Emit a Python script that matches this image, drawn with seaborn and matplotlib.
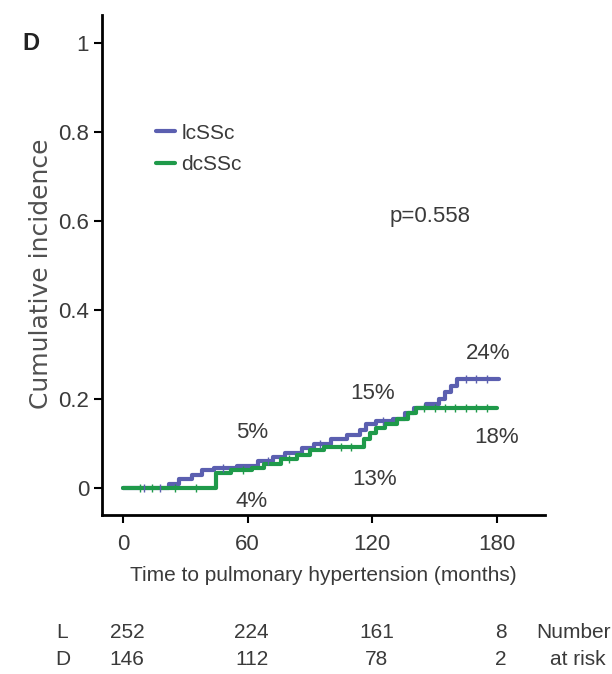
# Cumulative incidence of pulmonary hypertension, lcSSc vs dcSSc
import numpy as np
import pandas as pd
import matplotlib
matplotlib.use("Agg")
import matplotlib.pyplot as plt
import matplotlib.transforms as mtransforms
import seaborn as sns

# step times (months) and cumulative incidence values
lc_time = [0, 22, 27, 33, 38, 44, 55, 65, 72, 78, 86, 92, 100, 108, 114, 117,
           122, 130, 136, 140, 146, 152, 155, 158, 161, 181]
lc_value = [0, 0.01, 0.02, 0.03, 0.04, 0.045, 0.05, 0.06, 0.07, 0.08, 0.09,
            0.10, 0.11, 0.12, 0.13, 0.145, 0.15, 0.155, 0.17, 0.18, 0.19,
            0.20, 0.215, 0.23, 0.245, 0.245]

dc_time = [0, 45, 52, 62, 68, 76, 84, 90, 97, 116, 119, 122, 126, 132, 137,
           141, 180]
dc_value = [0, 0.035, 0.04, 0.045, 0.055, 0.065, 0.075, 0.085, 0.093, 0.11,
            0.125, 0.135, 0.145, 0.155, 0.17, 0.18, 0.18]

# censoring marks
lc_censor = [10, 18, 48, 70, 95, 125, 165, 170, 175]
dc_censor = [8, 14, 25, 35, 58, 80, 105, 110, 145, 150, 155, 160, 165, 170, 175]

groups = ["lcSSc", "dcSSc"]
colors = {"lcSSc": "#5b5fb0", "dcSSc": "#1f9a4a"}

# percentage labels
pct_labels = ["5%", "4%", "15%", "13%", "24%", "18%"]
pct_x = [62, 62, 120, 121, 176, 180]
pct_y = [0.125, -0.03, 0.213, 0.02, 0.302, 0.115]

x_ticks = [0, 60, 120, 180]
y_ticks = [0, 0.2, 0.4, 0.6, 0.8, 1]
y_tick_labels = ["0", "0.2", "0.4", "0.6", "0.8", "1"]

risk_l = [252, 224, 161, 8]
risk_d = [146, 112, 78, 2]

df = pd.concat([
    pd.DataFrame({"time": lc_time, "value": lc_value, "group": "lcSSc"}),
    pd.DataFrame({"time": dc_time, "value": dc_value, "group": "dcSSc"}),
])

sns.set_style("white")
plt.rcParams["font.family"] = ["Liberation Sans", "DejaVu Sans"]
text_col = "#3a3a3a"
fs = 15

fig = plt.figure(figsize=(6.12, 6.74), dpi=100)
ax = fig.add_axes([0.167, 0.236, 0.723, 0.742])

sns.lineplot(data=df, x="time", y="value", hue="group", hue_order=groups,
             palette=colors, drawstyle="steps-post", estimator=None,
             linewidth=3, ax=ax, legend=True)

# censor ticks on the curves
for name, t, v, cens in [("lcSSc", lc_time, lc_value, lc_censor),
                         ("dcSSc", dc_time, dc_value, dc_censor)]:
    idx = np.searchsorted(t, cens, side="right") - 1
    ax.plot(cens, np.array(v)[idx], linestyle="none", marker="|",
            markersize=6, markeredgewidth=1, color=colors[name])

ax.set_xlim(-10, 203)
ax.set_ylim(-0.06, 1.063)
ax.set_xticks(x_ticks)
ax.set_yticks(y_ticks)
ax.set_yticklabels(y_tick_labels)
ax.tick_params(axis="both", direction="out", length=6, width=1.5,
               labelsize=fs + 1, labelcolor=text_col, color="black",
               bottom=True, left=True)
ax.tick_params(axis="x", pad=8)
for side in ["top", "right"]:
    ax.spines[side].set_visible(False)
for side in ["left", "bottom"]:
    ax.spines[side].set_color("black")
    ax.spines[side].set_linewidth(2)

ax.set_xlabel("Time to pulmonary hypertension (months)", fontsize=fs,
              color=text_col, labelpad=8)
ax.set_ylabel("Cumulative incidence", fontsize=18, color="#505050",
              family=["DejaVu Sans"])
ax.yaxis.set_label_coords(-0.112, 0.482)

leg = ax.legend(loc="upper left", bbox_to_anchor=(0.08, 0.82), frameon=False,
                fontsize=fs, handlelength=0.9, handletextpad=0.3,
                labelspacing=0.6)
for txt in leg.get_texts():
    txt.set_color(text_col)

ax.text(148, 0.61, "p=0.558", fontsize=fs + 1, color=text_col, ha="center",
        va="center")
for lab, px, py in zip(pct_labels, pct_x, pct_y):
    ax.text(px, py, lab, fontsize=fs + 1, color=text_col, ha="center",
            va="center")

fig.text(0.05, 0.935, "D", fontsize=17, fontweight="bold", color="#222222",
         ha="center", va="center")

# number at risk table
trans = mtransforms.blended_transform_factory(ax.transData, fig.transFigure)
fig.text(0.102, 0.062, "L", fontsize=fs, color=text_col, ha="center",
         va="center")
fig.text(0.102, 0.021, "D", fontsize=fs, color=text_col, ha="center",
         va="center")
for t, l, d in zip(x_ticks, risk_l, risk_d):
    fig.text(t + 2, 0.062, str(l), fontsize=fs, color=text_col, ha="center",
             va="center", transform=trans)
    fig.text(t + 2, 0.021, str(d), fontsize=fs, color=text_col, ha="center",
             va="center", transform=trans)
fig.text(0.998, 0.062, "Number", fontsize=fs, color=text_col, ha="right",
         va="center")
fig.text(0.99, 0.021, "at risk", fontsize=fs, color=text_col, ha="right",
         va="center")

plt.savefig("out.png", dpi=100)
